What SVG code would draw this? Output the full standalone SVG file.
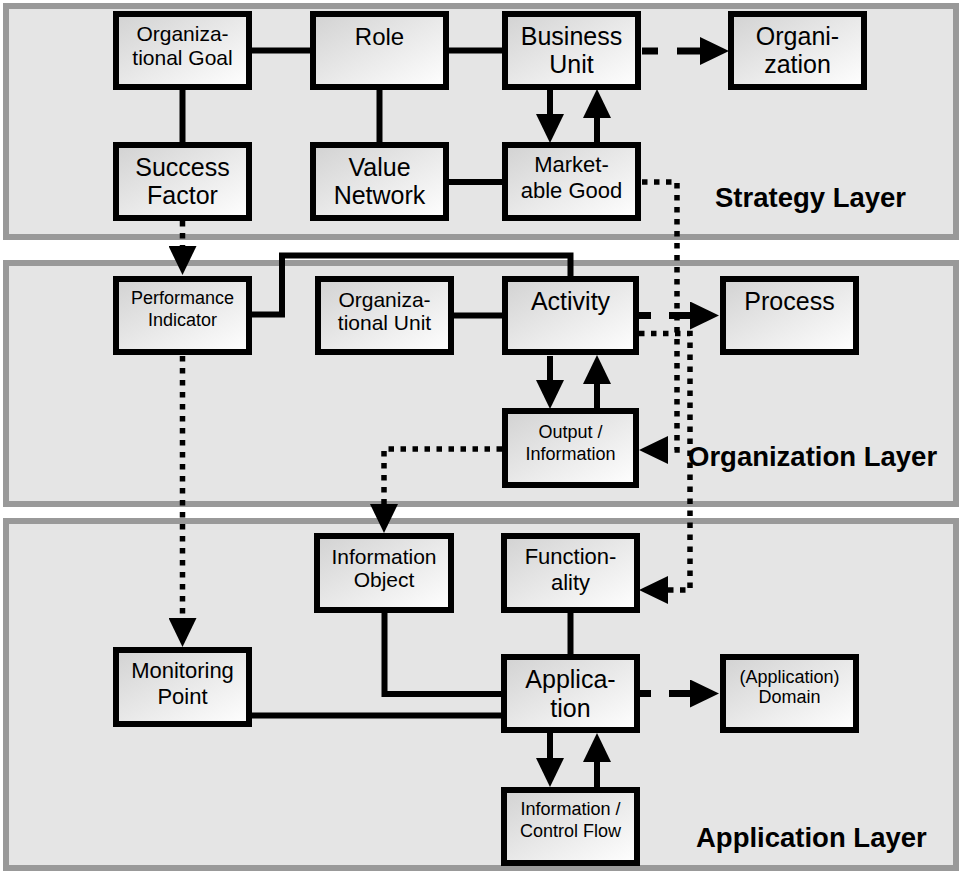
<svg xmlns="http://www.w3.org/2000/svg" width="960" height="871" viewBox="0 0 960 871">
<defs>
<linearGradient id="nf" x1="0" y1="0" x2="1" y2="1">
<stop offset="0" stop-color="#d2d2d2"/>
<stop offset="1" stop-color="#ffffff"/>
</linearGradient>
<marker id="ah" markerUnits="userSpaceOnUse" markerWidth="29" markerHeight="28" viewBox="0 0 29 28" refX="0" refY="14" orient="auto">
<path d="M0,0 L29,14 L0,28 Z" fill="#000"/>
</marker>
</defs>
<style>
.layer{fill:#e5e5e5;stroke:#999;stroke-width:6}
.node rect{fill:url(#nf);stroke:#000;stroke-width:6}
.node text{font-family:"Liberation Sans",Arial,Helvetica,sans-serif;text-anchor:middle;fill:#000}
.lbl{font-family:"Liberation Sans",Arial,Helvetica,sans-serif;font-weight:bold;font-size:27.5px;fill:#000}
.c{fill:none;stroke:#000;stroke-width:6}
.d{fill:none;stroke:#000;stroke-width:7}
.dot{fill:none;stroke:#000;stroke-width:5.5;stroke-dasharray:5.5 6.5}
.arr{marker-end:url(#ah)}
</style>
<g id="layers">
<rect class="layer" x="6" y="6" width="950" height="231"/>
<rect class="layer" x="6" y="263" width="950" height="241"/>
<rect class="layer" x="6" y="521" width="950" height="347"/>
<text class="lbl" x="715" y="207">Strategy Layer</text>
<text class="lbl" x="688" y="466">Organization Layer</text>
<text class="lbl" x="696" y="847">Application Layer</text>
</g>
<g id="connectors">
<path class="c" d="M252,50.5 H310"/>
<path class="c" d="M449,50.5 H502"/>
<path class="c" d="M182.5,90 V142"/>
<path class="c" d="M379.5,90 V142"/>
<path class="c" d="M449,182 H502"/>
<path class="d arr" d="M642,51 H700" stroke-dasharray="16 19 40"/>
<path class="c arr" d="M550,90 V114"/>
<path class="c arr" d="M597,142 V118"/>
<path class="dot arr" d="M642,182 H677 V450 H668"/>
<path class="dot arr" d="M182.5,221 V246"/>
<path class="c" d="M252,314.5 H282 V255.5 H570.5 V276"/>
<path class="c" d="M454,315.5 H502"/>
<path class="d arr" d="M639,315.5 H690" stroke-dasharray="12 18 60"/>
<path class="dot arr" d="M639,333.5 H690 V590 H668"/>
<path class="c arr" d="M550,356 V380"/>
<path class="c arr" d="M597,408 V384"/>
<path class="dot arr" d="M502,449 H384 V504"/>
<path class="dot arr" d="M182.5,356 V618"/>
<path class="c" d="M384.5,613 V694 H501"/>
<path class="c" d="M252,715.5 H501"/>
<path class="c" d="M570.5,613 V654"/>
<path class="d arr" d="M640,693.5 H690" stroke-dasharray="11 18 60"/>
<path class="c arr" d="M550,733 V758"/>
<path class="c arr" d="M597,787 V762"/>
</g>
<g id="n-orggoal" class="node"><rect x="116" y="14" width="133" height="73"/><text x="182.5" y="41" font-size="21">Organiza-</text><text x="182.5" y="65" font-size="21">tional Goal</text></g>
<g id="n-role" class="node"><rect x="313" y="14" width="133" height="73"/><text x="379.5" y="45" font-size="24">Role</text></g>
<g id="n-bu" class="node"><rect x="505" y="14" width="133" height="73"/><text x="571.5" y="45" font-size="25">Business</text><text x="571.5" y="73" font-size="25">Unit</text></g>
<g id="n-org" class="node"><rect x="731" y="14" width="133" height="73"/><text x="797.5" y="45" font-size="25">Organi-</text><text x="797.5" y="73" font-size="25">zation</text></g>
<g id="n-sf" class="node"><rect x="116" y="145" width="133" height="73"/><text x="182.5" y="176" font-size="25">Success</text><text x="182.5" y="204" font-size="25">Factor</text></g>
<g id="n-vn" class="node"><rect x="313" y="145" width="133" height="73"/><text x="379.5" y="176" font-size="25">Value</text><text x="379.5" y="204" font-size="25">Network</text></g>
<g id="n-mg" class="node"><rect x="505" y="145" width="133" height="73"/><text x="571.5" y="172" font-size="22">Market-</text><text x="571.5" y="198" font-size="22">able Good</text></g>
<g id="n-pi" class="node"><rect x="116" y="279" width="133" height="73"/><text x="182.5" y="304" font-size="18">Performance</text><text x="182.5" y="326" font-size="18">Indicator</text></g>
<g id="n-ou" class="node"><rect x="318" y="279" width="133" height="73"/><text x="384.5" y="307" font-size="21">Organiza-</text><text x="384.5" y="330" font-size="21">tional Unit</text></g>
<g id="n-activity" class="node"><rect x="505" y="279" width="131" height="73"/><text x="570.5" y="310" font-size="25">Activity</text></g>
<g id="n-process" class="node"><rect x="723" y="279" width="133" height="73"/><text x="789.5" y="310" font-size="25">Process</text></g>
<g id="n-output" class="node"><rect x="505" y="411" width="131" height="74"/><text x="570.5" y="438" font-size="18">Output /</text><text x="570.5" y="460" font-size="18">Information</text></g>
<g id="n-io" class="node"><rect x="317" y="536" width="134" height="74"/><text x="384" y="564" font-size="21">Information</text><text x="384" y="587" font-size="21">Object</text></g>
<g id="n-mp" class="node"><rect x="116" y="650" width="133" height="74"/><text x="182.5" y="678" font-size="22">Monitoring</text><text x="182.5" y="704" font-size="22">Point</text></g>
<g id="n-func" class="node"><rect x="504" y="536" width="133" height="74"/><text x="570.5" y="564" font-size="22">Function-</text><text x="570.5" y="590" font-size="22">ality</text></g>
<g id="n-app" class="node"><rect x="504" y="657" width="133" height="73"/><text x="570.5" y="688" font-size="25">Applica-</text><text x="570.5" y="717" font-size="25">tion</text></g>
<g id="n-domain" class="node"><rect x="723" y="657" width="133" height="73"/><text x="789.5" y="683" font-size="18">(Application)</text><text x="789.5" y="703" font-size="18">Domain</text></g>
<g id="n-icf" class="node"><rect x="504" y="790" width="133" height="73"/><text x="570.5" y="815" font-size="18">Information /</text><text x="570.5" y="837" font-size="18">Control Flow</text></g>
</svg>
